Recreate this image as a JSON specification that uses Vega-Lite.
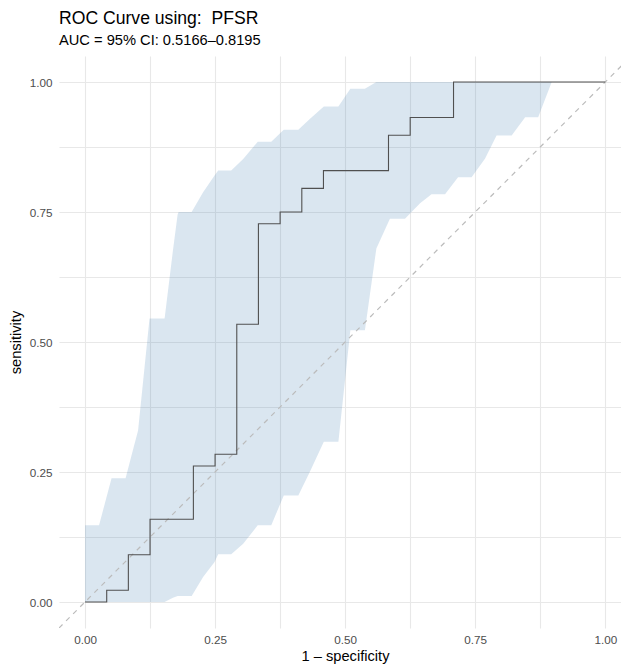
{
  "$schema": "https://vega.github.io/schema/vega-lite/v6.json",
  "width": 562,
  "height": 572,
  "autosize": "none",
  "padding": {"left": 59, "top": 56, "right": 0, "bottom": 39},
  "background": "white",
  "config": {"view": {"stroke": null}, "font": "Liberation Sans"},
  "title": {
    "text": "ROC Curve using:\u00a0 PFSR",
    "subtitle": "AUC = 95% CI: 0.5166–0.8195",
    "anchor": "start",
    "frame": "group",
    "fontSize": 17.6,
    "fontWeight": "normal",
    "subtitleFontSize": 14.67,
    "color": "black",
    "subtitleColor": "black",
    "offset": 8,
    "subtitlePadding": 6
  },
  "encoding": {
    "x": {
      "field": "x",
      "type": "quantitative",
      "title": "1 – specificity",
      "scale": {"domain": [-0.05, 1.0302], "nice": false, "zero": false},
      "axis": {
        "values": [0, 0.125, 0.25, 0.375, 0.5, 0.625, 0.75, 0.875, 1],
        "labelExpr": "datum.value % 0.25 === 0 ? format(datum.value, '.2f') : ''",
        "domain": false,
        "ticks": false,
        "grid": true,
        "gridColor": "#E8E8E8",
        "gridWidth": 1.1,
        "labelFontSize": 11.7,
        "labelColor": "#4D4D4D",
        "labelPadding": 6,
        "titleFontSize": 14.67,
        "titleFontWeight": "normal",
        "titleColor": "black",
        "titlePadding": 3,
        "titleX": 286
      }
    },
    "y": {
      "field": "y",
      "type": "quantitative",
      "title": "sensitivity",
      "scale": {"domain": [-0.05, 1.05], "nice": false, "zero": false},
      "axis": {
        "values": [0, 0.125, 0.25, 0.375, 0.5, 0.625, 0.75, 0.875, 1],
        "labelExpr": "datum.value % 0.25 === 0 ? format(datum.value, '.2f') : ''",
        "domain": false,
        "ticks": false,
        "grid": true,
        "gridColor": "#E8E8E8",
        "gridWidth": 1.1,
        "labelFontSize": 11.7,
        "labelColor": "#4D4D4D",
        "labelPadding": 7,
        "titleFontSize": 14.67,
        "titleFontWeight": "normal",
        "titleColor": "black",
        "titlePadding": 6
      }
    }
  },
  "layer": [
    {
      "data": {"values": [
        {"x": 0, "y": 0, "y_hi": 0.1475},
        {"x": 0.027, "y": 0, "y_hi": 0.1475},
        {"x": 0.051, "y": 0, "y_hi": 0.238},
        {"x": 0.078, "y": 0, "y_hi": 0.238},
        {"x": 0.092, "y": 0, "y_hi": 0.292},
        {"x": 0.102, "y": 0, "y_hi": 0.33},
        {"x": 0.124, "y": 0, "y_hi": 0.545},
        {"x": 0.153, "y": 0, "y_hi": 0.545},
        {"x": 0.169, "y": 0.008, "y_hi": 0.676},
        {"x": 0.178, "y": 0.0115, "y_hi": 0.745},
        {"x": 0.18, "y": 0.0115, "y_hi": 0.75},
        {"x": 0.205, "y": 0.0115, "y_hi": 0.75},
        {"x": 0.227, "y": 0.048, "y_hi": 0.788},
        {"x": 0.249, "y": 0.077, "y_hi": 0.82},
        {"x": 0.256, "y": 0.092, "y_hi": 0.83},
        {"x": 0.281, "y": 0.092, "y_hi": 0.83},
        {"x": 0.304, "y": 0.112, "y_hi": 0.852},
        {"x": 0.332, "y": 0.1475, "y_hi": 0.885},
        {"x": 0.358, "y": 0.1475, "y_hi": 0.885},
        {"x": 0.382, "y": 0.205, "y_hi": 0.908},
        {"x": 0.41, "y": 0.205, "y_hi": 0.908},
        {"x": 0.432, "y": 0.25, "y_hi": 0.929},
        {"x": 0.459, "y": 0.308, "y_hi": 0.953},
        {"x": 0.487, "y": 0.308, "y_hi": 0.953},
        {"x": 0.51, "y": 0.5225, "y_hi": 0.987},
        {"x": 0.538, "y": 0.5225, "y_hi": 0.987},
        {"x": 0.56, "y": 0.68, "y_hi": 1},
        {"x": 0.586, "y": 0.737, "y_hi": 1},
        {"x": 0.615, "y": 0.737, "y_hi": 1},
        {"x": 0.644, "y": 0.767, "y_hi": 1},
        {"x": 0.666, "y": 0.784, "y_hi": 1},
        {"x": 0.692, "y": 0.784, "y_hi": 1},
        {"x": 0.717, "y": 0.817, "y_hi": 1},
        {"x": 0.743, "y": 0.817, "y_hi": 1},
        {"x": 0.769, "y": 0.853, "y_hi": 1},
        {"x": 0.791, "y": 0.897, "y_hi": 1},
        {"x": 0.82, "y": 0.897, "y_hi": 1},
        {"x": 0.846, "y": 0.932, "y_hi": 1},
        {"x": 0.871, "y": 0.932, "y_hi": 1},
        {"x": 0.897, "y": 1, "y_hi": 1},
        {"x": 1, "y": 1, "y_hi": 1}
      ]},
      "mark": {"type": "area", "color": "steelblue", "opacity": 0.2},
      "encoding": {"y2": {"field": "y_hi"}}
    },
    {
      "data": {"values": [
        {"x": -0.05, "y": -0.05},
        {"x": 1.05, "y": 1.05}
      ]},
      "mark": {"type": "line", "color": "#BBBBBB", "strokeWidth": 1.2, "strokeDash": [5, 5], "clip": true}
    },
    {
      "data": {"values": [
        {"x": 0, "y": 0},
        {"x": 0.0417, "y": 0.0227},
        {"x": 0.0833, "y": 0.0909},
        {"x": 0.125, "y": 0.1591},
        {"x": 0.2083, "y": 0.2614},
        {"x": 0.25, "y": 0.2841},
        {"x": 0.2917, "y": 0.5341},
        {"x": 0.3333, "y": 0.7273},
        {"x": 0.375, "y": 0.75},
        {"x": 0.4167, "y": 0.7955},
        {"x": 0.4583, "y": 0.8295},
        {"x": 0.5833, "y": 0.8977},
        {"x": 0.625, "y": 0.9318},
        {"x": 0.7083, "y": 1},
        {"x": 1, "y": 1}
      ]},
      "mark": {"type": "line", "interpolate": "step-after", "color": "#505050", "strokeWidth": 1.1}
    }
  ]
}
